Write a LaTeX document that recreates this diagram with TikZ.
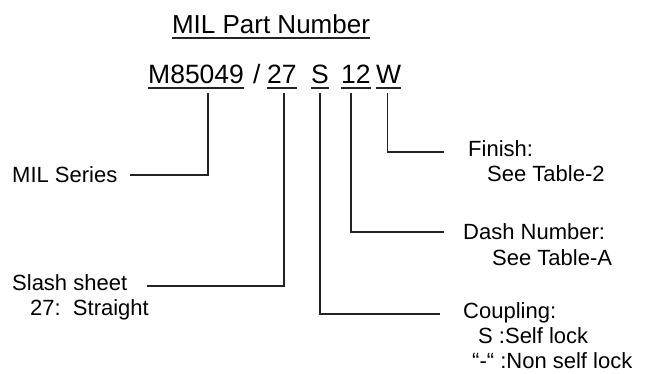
\documentclass[tikz,border=0pt]{standalone}
\usepackage{fontspec}
\setmainfont{Liberation Sans}
\usetikzlibrary{%
	calc,%
	positioning,%
}
\definecolor{cline}{RGB}{35, 35, 35}
\tikzset{
	nodes={align=left},%
	titlenode/.style={%
			inner sep=0,%
			anchor=base,%
			text depth=4pt,%
			font={\fontsize{26}{30}\selectfont}},%
	partnode/.style={%
			inner sep=0,%
			anchor=base west,%
			text depth=4pt,%
			font={\fontsize{26.5}{30}\selectfont}},%
	labelnode/.style={%
			inner sep=0,%
			anchor=base west,%
			font={\fontsize{22}{25}\selectfont}},%
	ul/.style={%
			line width=1.4pt,%
			cline},%
	leader/.style={%
			line width=1.3pt,%
			cline},%
}

\begin{document}
\begin{tikzpicture}[x=1pt, y=-1pt]%
	\useasboundingbox (0,0) rectangle (653,374);

	\node[titlenode] (title) at (271,34) {MIL Part Number};
	\draw[ul] (title.south west) to (title.south east);

	\node[partnode] (pbase) at (148,84) {M85049};
	\node[partnode] (pslash) at (253,84) {/};
	\node[partnode] (psheet) at (267,84) {27};
	\node[partnode] (pcoup) at (311,84) {S};
	\node[partnode] (pdash) at (341,84) {12};
	\node[partnode] (pfinish) at (376,84) {W};
	\draw[ul] (pbase.south west) to (pbase.south east);
	\draw[ul] (psheet.south west) to (psheet.south east);
	\draw[ul] (pcoup.south west) to (pcoup.south east);
	\draw[ul] (pdash.south west) to (pdash.south east);
	\draw[ul] (pfinish.south west) to (pfinish.south east);

	% multi-line labels sit on the baseline of their last line
	\node[labelnode] (lseries) at (12,183) {MIL Series};
	\node[labelnode] (lsheet) at (12,315) {Slash sheet\\\hspace{18pt}27:\ \ Straight};
	\node[labelnode] (lfinish) at (468,182) {Finish:\\\hspace{19pt}See Table-2};
	\node[labelnode] (ldash) at (463,265) {Dash Number:\\\hspace{29pt}See Table-A};
	\node[labelnode] (lcoup) at (463,368) {Coupling:\\\hspace{15pt}S :Self lock\\\hspace{9pt}“-“ :Non self lock};

	\draw[leader] ([xshift=12pt, yshift=-5pt]pbase.south) |- ([xshift=12pt]lseries.east);
	\draw[leader] ([xshift=2pt, yshift=-5pt]psheet.south) |- ([shift={(135pt,29pt)}]lsheet.base west);
	\draw[leader] ([yshift=-5pt]pcoup.south) |- ([shift={(-23pt,54pt)}]lcoup.base west);
	\draw[leader] ([xshift=-5pt, yshift=-5pt]pdash.south) |- ([shift={(-19pt,33pt)}]ldash.base west);
	\draw[leader] ([xshift=-1pt, yshift=-5pt]pfinish.south) |- ([shift={(-24pt,30pt)}]lfinish.base west);
\end{tikzpicture}
\end{document}
